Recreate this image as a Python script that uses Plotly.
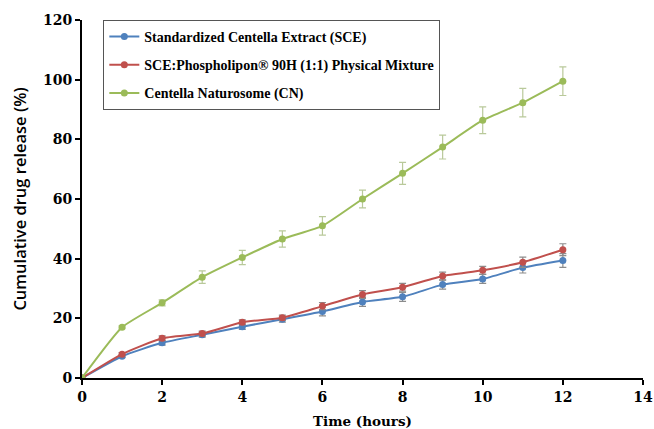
import plotly.graph_objects as go

time_h = [0, 1, 2, 3, 4, 5, 6, 7, 8, 9, 10, 11, 12]

sce = [0, 7.3, 11.8, 14.5, 17.2, 19.7, 22.3, 25.5, 27.2, 31.3, 33.2, 37.0, 39.4]
sce_err = [0, 0.5, 0.8, 0.8, 0.9, 1.0, 1.5, 1.5, 1.5, 1.5, 1.5, 1.8, 2.3]

pm = [0, 8.0, 13.3, 14.9, 18.7, 20.2, 24.1, 28.0, 30.4, 34.2, 36.1, 38.8, 43.0]
pm_err = [0, 0.5, 0.8, 0.8, 0.8, 0.9, 1.2, 1.3, 1.3, 1.3, 1.3, 1.7, 2.0]

cn = [0, 17.0, 25.2, 33.8, 40.4, 46.6, 51.0, 60.0, 68.6, 77.4, 86.4, 92.3, 99.5]
cn_err = [0, 0.5, 1.0, 2.1, 2.4, 2.7, 3.1, 3.0, 3.7, 4.0, 4.5, 4.8, 4.8]

names = [
    "Standardized Centella Extract (SCE)",
    "SCE:Phospholipon® 90H (1:1) Physical Mixture",
    "Centella Naturosome (CN)",
]
colors = ["#4F81BD", "#C0504D", "#9BBB59"]
err_colors = ["#8C8C8C", "#8C8C8C", "#B9C99A"]

fig = go.Figure()
for i, (vals, errs) in enumerate([(sce, sce_err), (pm, pm_err), (cn, cn_err)]):
    fig.add_trace(go.Scatter(
        x=time_h, y=vals, name=names[i], mode="lines+markers",
        legendgroup=f"g{i}",
        line=dict(color=colors[i], width=2, shape="spline", smoothing=0.5),
        marker=dict(color=colors[i], size=7),
        error_y=dict(type="data", array=errs, visible=True,
                     color=err_colors[i], thickness=1.2, width=3.5),
    ))

fig.update_layout(
    template="none",
    width=654, height=429,
    margin=dict(l=82, r=11, t=20, b=51),
    paper_bgcolor="white", plot_bgcolor="white",
    font=dict(family="DejaVu Serif", color="black"),
    showlegend=True,
    legend=dict(
        x=0.038, y=1.0, xanchor="left", yanchor="top",
        bordercolor="#555555", borderwidth=1, bgcolor="white",
        font=dict(family="Liberation Serif", size=14, color="black", weight="bold"),
        traceorder="grouped", tracegroupgap=7,
    ),
)
fig.update_xaxes(
    range=[0, 14], tickvals=[0, 2, 4, 6, 8, 10, 12, 14],
    showline=True, linecolor="black", linewidth=2,
    ticks="outside", ticklen=5, tickwidth=2, tickcolor="black",
    showgrid=False, zeroline=False, automargin=False,
    tickfont=dict(family="DejaVu Serif", size=14, weight="bold"),
    title=dict(text="Time (hours)", standoff=13,
               font=dict(family="DejaVu Serif", size=13.5, weight="bold")),
)
fig.update_yaxes(
    range=[0, 120], tickvals=[0, 20, 40, 60, 80, 100, 120],
    showline=True, linecolor="black", linewidth=2,
    ticks="outside", ticklen=5, tickwidth=2, tickcolor="black",
    showgrid=False, zeroline=False, automargin=False,
    tickfont=dict(family="DejaVu Serif", size=14, weight="bold"),
    title=dict(text="Cumulative drug release (%)", standoff=12,
               font=dict(family="Open Sans", size=16.5, weight=600)),
)

fig.write_html("out.html", config={"displayModeBar": False},
               post_script="document.body.style.margin='0';")
